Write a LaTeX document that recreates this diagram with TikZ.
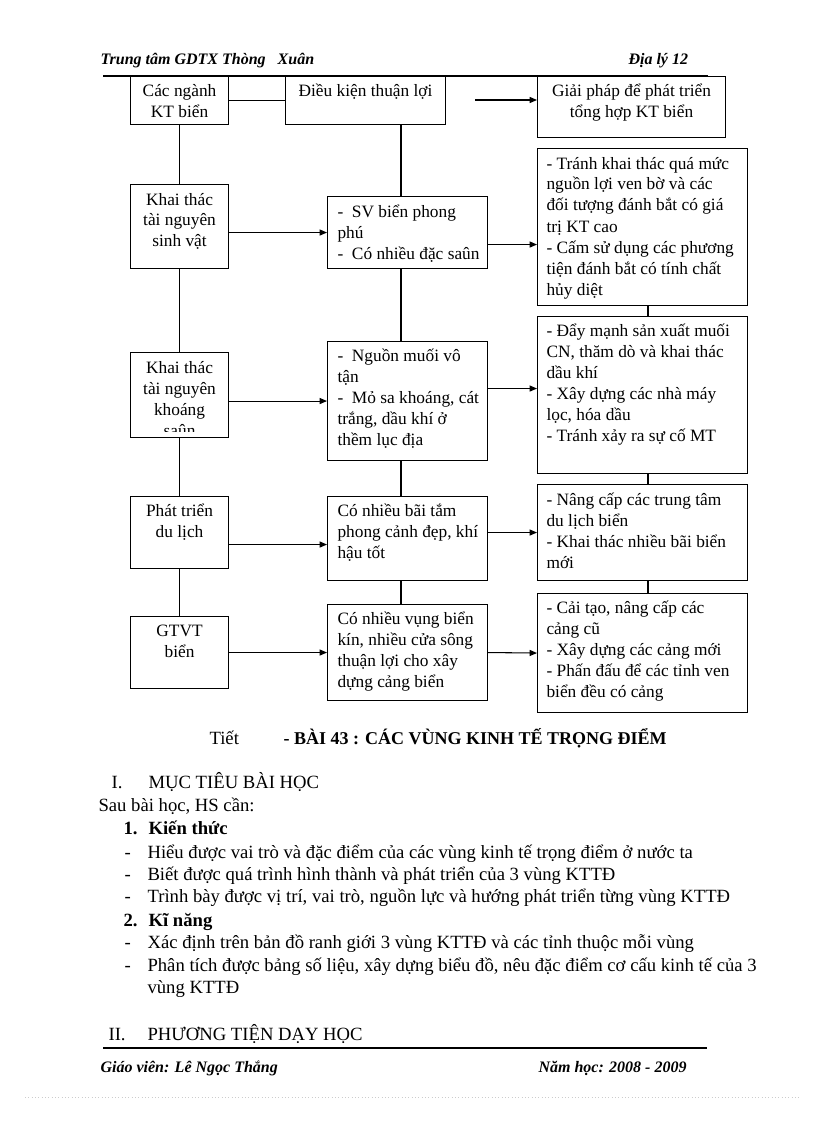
\documentclass[tikz,border=0pt]{standalone}
\usepackage{fontspec}
\setmainfont{Liberation Serif}
\usetikzlibrary{arrows.meta, positioning}
\newdimen\pxu \pxu=0.75pt
\tikzset{
  every picture/.style={line width=0.8pt},
  box/.style={draw, anchor=north west, inner sep=0pt},
  arrow/.style={-{Triangle[length=5.5pt, width=4.5pt]}},
  txt/.style={inner sep=0pt, anchor=base west, align=left, font=\fontsize{13}{15.75}\selectfont},
  ctxt/.style={txt, anchor=base, align=center},
  hd/.style={inner sep=0pt, anchor=base west, font=\fontsize{12}{14}\selectfont\bfseries\itshape},
  body/.style={inner sep=0pt, anchor=base west, font=\fontsize{14}{16}\selectfont},
  bbody/.style={body, font=\fontsize{14}{16}\selectfont\bfseries},
}

\begin{document}
\begin{tikzpicture}[x=0.75pt, y=-0.75pt]
  \useasboundingbox (0,0) rectangle (816,1123);
  % page header
  \node[hd] (school) at (100,65) {Trung tâm GDTX Thòng\hspace{9pt}Xuân};
  \node[hd] (subject) at (628,65) {Địa lý 12};
  \draw (103,76) -- (708,76);
  % first column (text anchored on its last line)
  \node[box, minimum width=98\pxu, minimum height=48\pxu] (nganh) at (130,76) {};
  \node[box, minimum width=98\pxu, minimum height=84\pxu] (kt1) at (130,184) {};
  \node[box, minimum width=98\pxu, minimum height=85\pxu] (kt2) at (130,352) {};
  \node[box, minimum width=98\pxu, minimum height=72\pxu] (dl) at (130,496) {};
  \node[box, minimum width=98\pxu, minimum height=72\pxu] (gt) at (130,616) {};
  \node[ctxt] (nganh-t) at ([shift={(0,42)}]nganh.north) {Các ngành\\KT biển};
  \node[ctxt] (kt1-t) at ([shift={(0,63)}]kt1.north) {Khai thác\\tài nguyên\\sinh vật};
  \begin{scope}
    \clip (kt2.north west) rectangle ([yshift=7\pxu]kt2.south east);
    \node[ctxt] (kt2-t) at ([shift={(0,84)}]kt2.north) {Khai thác\\tài nguyên\\khoáng\\saûn};
  \end{scope}
  \node[ctxt] (dl-t) at ([shift={(0,41)}]dl.north) {Phát triển\\du lịch};
  \node[ctxt] (gt-t) at ([shift={(0,41)}]gt.north) {GTVT\\biển};
  % second column
  \node[box, minimum width=160\pxu, minimum height=48\pxu] (dk) at (285,76) {};
  \node[box, minimum width=160\pxu, minimum height=72\pxu] (sv) at (327,196) {};
  \node[box, minimum width=160\pxu, minimum height=119\pxu] (nm) at (327,341) {};
  \node[box, minimum width=160\pxu, minimum height=84\pxu] (bt) at (327,496) {};
  \node[box, minimum width=160\pxu, minimum height=96\pxu] (vb) at (327,604) {};
  \node[ctxt] (dk-t) at ([shift={(0,21)}]dk.north) {Điều kiện thuận lợi};
  \node[txt] (sv-t) at ([shift={(10,63)}]sv.north west) {-\enspace SV biển phong\\phú\\-\enspace Có nhiều đặc saûn};
  \node[txt] (nm-t) at ([shift={(10,104)}]nm.north west) {-\enspace Nguồn muối vô\\tận\\-\enspace Mỏ sa khoáng, cát\\trắng, dầu khí ở\\thềm lục địa};
  \node[txt] (bt-t) at ([shift={(10,62)}]bt.north west) {Có nhiều bãi tắm\\phong cảnh đẹp, khí\\hậu tốt};
  \node[txt] (vb-t) at ([shift={(10,83)}]vb.north west) {Có nhiều vụng biển\\kín, nhiều cửa sông\\thuận lợi cho xây\\dựng cảng biển};
  % third column
  \node[box, minimum width=188\pxu, minimum height=61\pxu] (gp) at (537,76) {};
  \node[box, minimum width=210\pxu, minimum height=157\pxu] (tr) at (537,148) {};
  \node[box, minimum width=210\pxu, minimum height=157\pxu] (dm) at (537,316) {};
  \node[box, minimum width=210\pxu, minimum height=96\pxu] (nc) at (537,484) {};
  \node[box, minimum width=210\pxu, minimum height=119\pxu] (ct) at (537,593) {};
  \node[ctxt] (gp-t) at ([shift={(0,42)}]gp.north) {Giải pháp để phát triển\\tổng hợp KT biển};
  \node[txt] (tr-t) at ([shift={(9,147)}]tr.north west) {- Tránh khai thác quá mức\\nguồn lợi ven bờ và các\\đối tượng đánh bắt có giá\\trị KT cao\\- Cấm sử dụng các phương\\tiện đánh bắt có tính chất\\hủy diệt};
  \node[txt] (dm-t) at ([shift={(9,125)}]dm.north west) {- Đẩy mạnh sản xuất muối\\CN, thăm dò và khai thác\\dầu khí\\- Xây dựng các nhà máy\\lọc, hóa dầu\\- Tránh xảy ra sự cố MT};
  \node[txt] (nc-t) at ([shift={(9,84)}]nc.north west) {- Nâng cấp các trung tâm\\du lịch biển\\- Khai thác nhiều bãi biển\\mới};
  \node[txt] (ct-t) at ([shift={(9,104)}]ct.north west) {- Cải tạo, nâng cấp các\\cảng cũ\\- Xây dựng các cảng mới\\- Phấn đấu để các tỉnh ven\\biển đều có cảng};
  % connectors
  \coordinate (cx) at (401,0);
  \coordinate (rx) at (648,0);
  \coordinate (ga) at (475,100);
  \draw (nganh.east) -- (dk.west);
  \draw[arrow] (ga) -- (ga -| gp.west);
  \foreach \a/\b in {nganh/kt1, kt1/kt2, kt2/dl, dl/gt} \draw (\a.south) -- (\b.north);
  \foreach \a/\b in {dk/sv, sv/nm, nm/bt, bt/vb} \draw (\a.south -| cx) -- (\b.north -| cx);
  \foreach \a/\b in {tr/dm, dm/nc, nc/ct} \draw (\a.south -| rx) -- (\b.north -| rx);
  \draw[arrow] (kt1.east |- sv.west) -- (sv.west);
  \draw[arrow] (kt2.east |- nm.west) -- (nm.west);
  \draw[arrow] ([yshift=-12\pxu]dl.east) -- ([yshift=-12\pxu]dl.east -| bt.west);
  \draw[arrow] (gt.east) -- (vb.west);
  \draw[arrow] ([yshift=-12\pxu]sv.east) -- ([yshift=-12\pxu]sv.east -| tr.west);
  \draw[arrow] ([yshift=12.5\pxu]nm.east) -- ([yshift=12.5\pxu]nm.east -| dm.west);
  \draw[arrow] (bt.east |- nc.west) -- (nc.west);
  \draw[arrow] (vb.east) -- (ct.west);
  % lesson text
  \node[body] (tiet) at (209,744) {Tiết};
  \node[bbody, font=\fontsize{13.5}{16}\selectfont\bfseries] (bai) at (283,744) {- BÀI 43 : CÁC VÙNG KINH TẾ TRỌNG ĐIỂM};
  \node[body] (s1) at (111,788) {I.};
  \node[body] (s1-t) at (148,788) {MỤC TIÊU BÀI HỌC};
  \node[body] (sau) at (98,811) {Sau bài học, HS cần:};
  \node[bbody] (k1) at (123,834) {1.};
  \node[bbody] (k1-t) at (148,834) {Kiến thức};
  \foreach \t [count=\i from 0] in {Hiểu được vai trò và đặc điểm của các vùng kinh tế trọng điểm ở nước ta, Biết được quá trình hình thành và phát triển của 3 vùng KTTĐ, {Trình bày được vị trí, vai trò, nguồn lực và hướng phát triển từng vùng KTTĐ}} {
    \node[body] (kd\i) at (124,858+22*\i) {-};
    \node[body] (kt\i) at (147,858+22*\i) {\t};
  }
  \node[bbody] (k2) at (123,926) {2.};
  \node[bbody] (k2-t) at (148,926) {Kĩ năng};
  \foreach \t [count=\i from 0] in {Xác định trên bản đồ ranh giới 3 vùng KTTĐ và các tỉnh thuộc mỗi vùng, {Phân tích được bảng số liệu, xây dựng biểu đồ, nêu đặc điểm cơ cấu kinh tế của 3}} {
    \node[body] (nd\i) at (124,948+23*\i) {-};
    \node[body] (nt\i) at (147,948+23*\i) {\t};
  }
  \node[body] (nt2) at (147,993) {vùng KTTĐ};
  \node[body] (s2) at (108,1040) {II.};
  \node[body] (s2-t) at (147,1040) {PHƯƠNG TIỆN DẠY HỌC};
  % page footer
  \draw (103,1048) -- (707,1048);
  \node[hd] (gv) at (100,1072) {Giáo viên: Lê Ngọc Thắng};
  \node[hd] (nh) at (538,1072) {Năm học: 2008 - 2009};
  \draw[gray!40, line width=0.5pt, dotted] (25,1097) -- (800,1097);
\end{tikzpicture}
\end{document}
